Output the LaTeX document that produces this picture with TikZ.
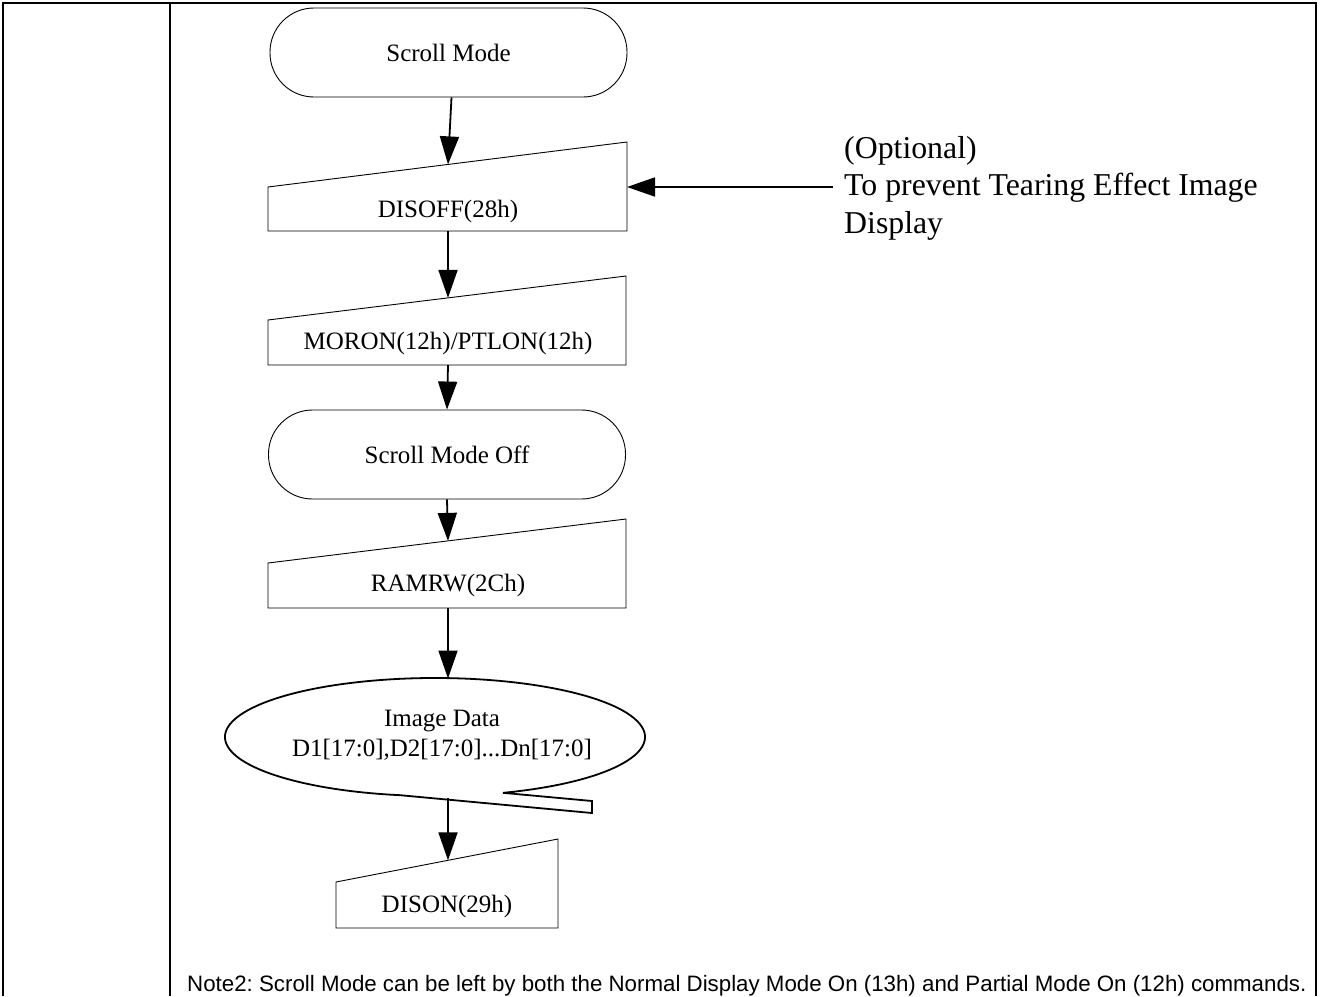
\documentclass[tikz,border=0pt]{standalone}
\usepackage{fontspec}
\setmainfont{Liberation Serif}
\newfontfamily\notefont{Liberation Sans}
\usetikzlibrary{arrows.meta}
\frenchspacing
\tikzset{
  frameline/.style={line width=2pt},
  shapeline/.style={line width=0.9pt},
  ellline/.style={line width=1.8pt},
  flowtext/.style={font=\fontsize{25}{30}\selectfont, inner sep=0pt, align=center},
  arr/.style={line width=1.8pt, -{Triangle[length=28pt,width=19pt]}},
  terminal/.style={draw, line width=0.9pt, rounded corners=44pt, minimum width=357pt,
    minimum height=89pt, inner sep=0pt, font=\fontsize{25}{30}\selectfont},
}
\begin{document}
\begin{tikzpicture}[x=1pt,y=-1pt]
\useasboundingbox (0,0) rectangle (1321,996);
% frame
\draw[frameline] (3,996) -- (3,3) -- (1316,3) -- (1316,996);
\draw[frameline] (170,3) -- (170,996);

% Scroll Mode
\node[terminal] (scroll) at (448.5,52.5) {Scroll Mode};

% DISOFF
\draw[shapeline] (268,187) -- (627,142) -- (627,231) -- (268,231) -- cycle;
\node[flowtext] (disoff) at (448,211) {DISOFF(28h)};
\coordinate (disoff-in) at (448,164.4);
\coordinate (disoff-out) at (448,231);
\coordinate (disoff-east) at (627,187);

% MORON
\draw[shapeline] (268,320) -- (626,276) -- (626,365) -- (268,365) -- cycle;
\node[flowtext] (moron) at (448,343) {MORON(12h)/PTLON(12h)};
\coordinate (moron-in) at (448,297.9);
\coordinate (moron-out) at (448,365);

% Scroll Mode Off
\node[terminal] (smoff) at (447,454.5) {Scroll Mode Off};

% RAMRW
\draw[shapeline] (268,563) -- (626,519) -- (626,608) -- (268,608) -- cycle;
\node[flowtext] (ramrw) at (448,585) {RAMRW(2Ch)};
\coordinate (ramrw-in) at (448,540.9);
\coordinate (ramrw-out) at (448,608);

% Image data callout
\draw[ellline] (435,737) ++(71.1:210 and 59)
  arc[start angle=71.1, end angle=-260.4, x radius=210, y radius=59]
  -- (592,813) -- (592,801) -- cycle;
\node[flowtext] (img) at (442,735) {Image Data\\D1[17:0],D2[17:0]...Dn[17:0]};
\coordinate (img-in) at (448,678.5);
\coordinate (img-out) at (448,798);

% DISON
\draw[shapeline] (336,882) -- (558,839) -- (558,928) -- (336,928) -- cycle;
\node[flowtext] (dison) at (447,906) {DISON(29h)};
\coordinate (dison-in) at (448,860.3);

% optional note
\node[anchor=west, font=\fontsize{31.8}{37.5}\selectfont, align=left, inner sep=0pt]
  (opt) at (844,188) {(Optional)\\To prevent Tearing Effect Image\\Display};
\coordinate (optend) at (833,187);

% connectors
\draw[arr] ([xshift=3pt]scroll.south) -- (disoff-in);
\draw[arr] (disoff-out) -- (moron-in);
\draw[arr] (moron-out) -- (smoff.north);
\draw[arr] (smoff.south) -- (ramrw-in);
\draw[arr] (ramrw-out) -- (img-in);
\draw[arr] (img-out) -- (dison-in);
\draw[arr] (optend) -- (disoff-east);

% note
\node[anchor=base west, font=\notefont\fontsize{22.3}{26}\selectfont, inner sep=0pt]
  (note) at (187,991) {Note2: Scroll Mode can be left by both the Normal Display Mode On (13h) and Partial Mode On (12h) commands.};
\end{tikzpicture}
\end{document}
